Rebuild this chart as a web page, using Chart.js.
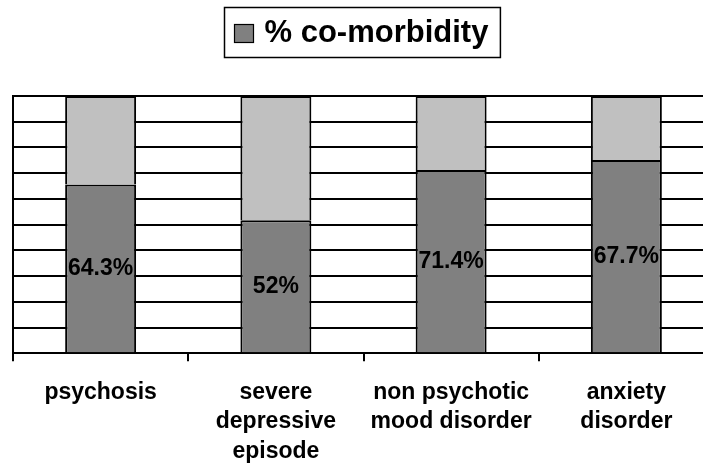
<!DOCTYPE html>
<html>
<head>
<meta charset="utf-8">
<script src="https://cdn.jsdelivr.net/npm/chart.js@4/dist/chart.umd.min.js"></script>
<style>
  html, body { margin: 0; padding: 0; background: #fff; overflow: hidden; }
  canvas { display: block; }
</style>
</head>
<body>
<canvas id="chart" width="715" height="468"></canvas>
<script>
const categories = [
    'psychosis',
    ['severe', 'depressive', 'episode'],
    ['non psychotic', 'mood disorder'],
    ['anxiety', 'disorder']
];
const comorbidity = [65.6, 51.7, 71.2, 75.1];
const remainder = [34.4, 48.3, 28.8, 24.9];
const barLabels = ['64.3%', '52%', '71.4%', '67.7%'];

const fontFamily = "'Liberation Sans', Arial, sans-serif";

// draws the percentage text in the middle of each dark bar
const barLabelPlugin = {
    id: 'barLabels',
    afterDatasetsDraw(chart) {
        const ctx = chart.ctx;
        const meta = chart.getDatasetMeta(0);
        ctx.save();
        ctx.font = `bold 23px ${fontFamily}`;
        ctx.fillStyle = '#000';
        ctx.textAlign = 'center';
        ctx.textBaseline = 'middle';
        meta.data.forEach((bar, i) => {
            ctx.fillText(barLabels[i], bar.x, (bar.y + bar.base) / 2);
        });
        ctx.restore();
    }
};

// boxed legend on top, only the first series
const boxedLegendPlugin = {
    id: 'boxedLegend',
    afterDraw(chart) {
        const ctx = chart.ctx;
        const ds = chart.data.datasets[0];
        ctx.save();
        ctx.font = `bold 31px ${fontFamily}`;
        const textW = ctx.measureText(ds.label).width;
        const boxW = 10 + 20 + 10 + textW + 12;
        const left = Math.round(362 - boxW / 2) + 0.5;
        const top = 7.5;
        const height = 50;

        ctx.lineWidth = 1.5;
        ctx.strokeStyle = '#000';
        ctx.fillStyle = '#fff';
        ctx.fillRect(left, top, boxW, height);
        ctx.strokeRect(left, top, boxW, height);

        ctx.fillStyle = ds.backgroundColor;
        ctx.fillRect(left + 10, top + 17, 19, 18);
        ctx.lineWidth = 1.2;
        ctx.strokeRect(left + 10, top + 17, 19, 18);

        ctx.fillStyle = '#000';
        ctx.textBaseline = 'middle';
        ctx.textAlign = 'left';
        ctx.fillText(ds.label, left + 40, top + height / 2 + 1);
        ctx.restore();
    }
};

new Chart(document.getElementById('chart'), {
    type: 'bar',
    data: {
        labels: categories,
        datasets: [
            {
                label: '% co-morbidity',
                data: comorbidity,
                backgroundColor: '#808080',
                borderColor: '#000',
                borderWidth: 2,
                borderSkipped: 'start'
            },
            {
                label: 'other',
                data: remainder,
                backgroundColor: '#c0c0c0',
                borderColor: '#000',
                borderWidth: 2,
                borderSkipped: 'start'
            }
        ]
    },
    options: {
        responsive: false,
        animation: false,
        layout: {
            padding: { top: 96, left: 13, right: 1, bottom: -15 }
        },
        datasets: {
            bar: {
                categoryPercentage: 1,
                barPercentage: 0.405
            }
        },
        plugins: {
            legend: { display: false },
            tooltip: { enabled: false }
        },
        scales: {
            x: {
                stacked: true,
                offset: true,
                grid: {
                    offset: true,
                    drawOnChartArea: false,
                    drawTicks: true,
                    tickLength: 8,
                    color: '#000',
                    lineWidth: 2
                },
                border: { display: true, color: '#000', width: 2 },
                ticks: {
                    color: '#000',
                    padding: 16,
                    maxRotation: 0,
                    autoSkip: false,
                    font: { family: fontFamily, size: 23, weight: 'bold', lineHeight: 1.3 }
                }
            },
            y: {
                stacked: true,
                min: 0,
                max: 100,
                grid: {
                    color: '#000',
                    lineWidth: 2,
                    drawTicks: false
                },
                border: { display: true, color: '#000', width: 2 },
                ticks: {
                    display: false,
                    stepSize: 10
                }
            }
        }
    },
    plugins: [barLabelPlugin, boxedLegendPlugin]
});
</script>
</body>
</html>
